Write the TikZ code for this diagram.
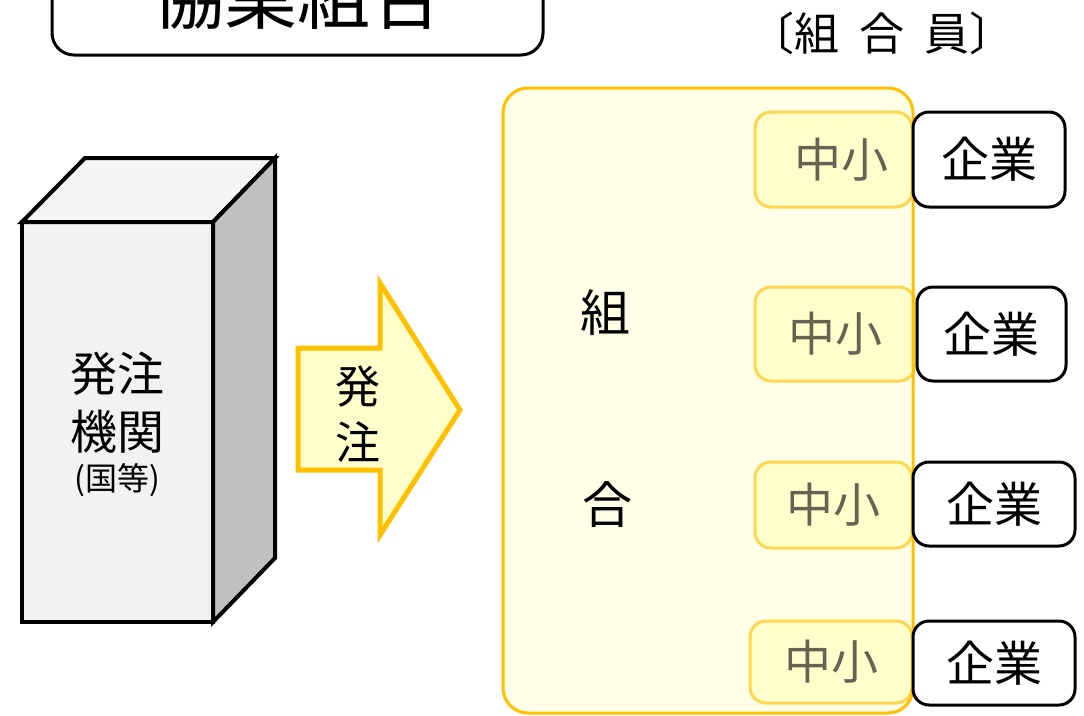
\documentclass[tikz,border=0pt]{standalone}
\usepackage{fontspec}
\setmainfont{Noto Sans CJK JP}
\usetikzlibrary{shapes}

\definecolor{kinari}{RGB}{255,255,232}
\definecolor{kiiro}{RGB}{255,255,204}
\definecolor{daidai}{RGB}{255,192,0}
\definecolor{usudaidai}{RGB}{255,214,80}
\definecolor{nezumi}{RGB}{100,100,84}
\definecolor{hai}{RGB}{242,242,242}
\definecolor{usuhai}{RGB}{245,245,245}
\definecolor{koihai}{RGB}{192,192,192}

\begin{document}
\begin{tikzpicture}[x=1pt,y=1pt]
	\tikzstyle{every node}+=[inner sep=0pt]
	\tikzstyle{chusho}=[draw=usudaidai,fill=kiiro,line width=3pt,rounded corners=16pt,text=nezumi]
	\tikzstyle{kigyo}=[draw=black,fill=white,line width=3pt,rounded corners=16pt]
	\useasboundingbox (0,0) rectangle (1084,-715);
	% title box (cut off at the top)
	\draw [black,line width=3pt,rounded corners=22pt] (52,40) rectangle (543,-55);
	\draw (297,4) node (title) {\fontsize{73}{80}\selectfont 協業組合};
	\draw (882,-33) node (kumiai) {\fontsize{45}{48}\selectfont 〔組\hspace{0.45em}合\hspace{0.45em}員〕};
	% ordering body
	\filldraw [fill=hai,line width=4pt] (22,-222) rectangle (213,-622);
	\filldraw [fill=usuhai,line width=4pt] (22,-222) -- (85,-158) -- (275,-158) -- (213,-222) -- cycle;
	\filldraw [fill=koihai,line width=4pt] (213,-222) -- (275,-158) -- (275,-558) -- (213,-622) -- cycle;
	\draw (117,-374) node (hatchu) {\fontsize{47}{50}\selectfont 発注};
	\draw (117,-432) node (kikan) {\fontsize{47}{50}\selectfont 機関};
	\draw (117,-480) node (kuni) {\fontsize{32}{36}\selectfont (国等)};
	% arrow
	\filldraw [fill=kiiro,draw=daidai,line width=5pt] (298,-348) -- (380,-348) -- (380,-283) -- (460,-410) -- (380,-535) -- (380,-470) -- (298,-470) -- cycle;
	\draw (358,-387) node (ya1) {\fontsize{45}{48}\selectfont 発};
	\draw (358,-442) node (ya2) {\fontsize{45}{48}\selectfont 注};
	% union
	\fill [kinari,rounded corners=25pt] (503,-88) rectangle (913,-713);
	\draw (605,-313) node (kumi) {\fontsize{50}{52}\selectfont 組};
	\draw (607,-505) node (ai) {\fontsize{50}{52}\selectfont 合};
	\node [chusho,minimum width=157pt,minimum height=95pt] (chu1) at (833.5,-159.5) {\fontsize{47}{50}\selectfont\hspace{16pt}中小};
	\node [chusho,minimum width=160pt,minimum height=94pt] (chu2) at (835,-334) {\fontsize{47}{50}\selectfont 中小};
	\node [chusho,minimum width=157pt,minimum height=86pt] (chu3) at (833.5,-505) {\fontsize{47}{50}\selectfont 中小};
	\node [chusho,minimum width=162pt,minimum height=82pt] (chu4) at (831,-662) {\fontsize{47}{50}\selectfont 中小};
	\draw [daidai,line width=3pt,rounded corners=25pt] (503,-88) rectangle (913,-713);
	\node [kigyo,minimum width=152pt,minimum height=95pt] (kig1) at (989,-159.5) {\fontsize{48}{50}\selectfont 企業};
	\node [kigyo,minimum width=149pt,minimum height=94pt] (kig2) at (991.5,-334) {\fontsize{48}{50}\selectfont 企業};
	\node [kigyo,minimum width=162pt,minimum height=84pt] (kig3) at (994,-504) {\fontsize{48}{50}\selectfont 企業};
	\node [kigyo,minimum width=162pt,minimum height=84pt] (kig4) at (994,-663) {\fontsize{48}{50}\selectfont 企業};
\end{tikzpicture}
\end{document}
